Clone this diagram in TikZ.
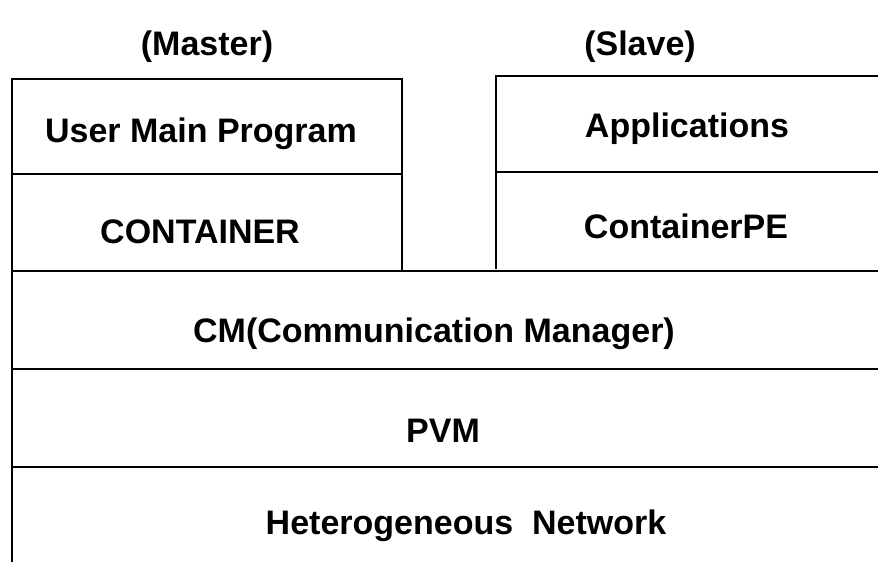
\documentclass[tikz,border=0pt]{standalone}
\usepackage{fontspec}
\setmainfont{Liberation Sans}
\tikzset{
  layer/.style={line width=1.5pt},
  label/.style={font=\fontsize{34}{40}\selectfont\bfseries, inner sep=0pt}
}
\begin{document}
\begin{tikzpicture}[x=1pt, y=-1pt]
        \useasboundingbox (0,0) rectangle (878,562);
        % master side
        \draw[layer] (12,562) -- (12,79) -- (402,79) -- (402,271);
        \draw[layer] (12,174) -- (402,174);
        % slave side
        \draw[layer] (496,269) -- (496,76) -- (878,76);
        \draw[layer] (496,172) -- (878,172);
        % common layers
        \foreach \y in {271,369,467} {
            \draw[layer] (12,\y) -- (878,\y);
        }
        \node[label] (master) at (207,47) {(Master)};
        \node[label] (slave) at (640,47) {(Slave)};
        \node[label] (ump) at (201,134) {User Main Program};
        \node[label] (cont) at (200,232) {CONTAINER};
        \node[label] (apps) at (687,129) {Applications};
        \node[label] (contpe) at (686,226) {ContainerPE};
        \node[label] (cm) at (434,334) {CM(Communication Manager)};
        \node[label] (pvm) at (443,431) {PVM};
        \node[label] (net) at (466,526) {Heterogeneous\ \ Network};
    \end{tikzpicture}
\end{document}
